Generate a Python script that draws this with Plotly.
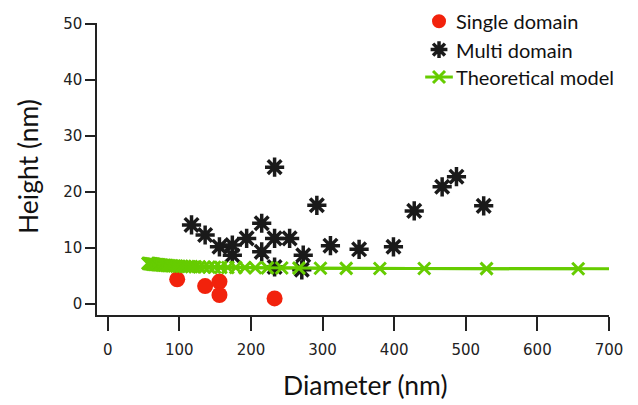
import plotly.graph_objects as go

# Single-domain particles (diameter, height) in nm
single_d = [97, 136, 156, 156, 233]
single_h = [4.4, 3.2, 4.0, 1.6, 1.0]

# Multi-domain particles (diameter, height) in nm
multi_d = [117, 136, 156, 174, 174, 194, 215, 215, 233, 233, 233, 254,
           273, 271, 292, 311, 351, 399, 428, 467, 487, 525]
multi_h = [14.1, 12.3, 10.2, 10.5, 8.7, 11.7, 14.4, 9.3, 11.7, 24.4, 6.6, 11.7,
           8.7, 6.1, 17.6, 10.4, 9.75, 10.2, 16.6, 20.9, 22.7, 17.5]

# Theoretical model curve (diameter, height) in nm
model_d = [56.2, 57.4, 58.6, 59.9, 61.3, 62.7, 64.2, 65.7, 67.4, 69.1, 70.9,
           72.8, 74.8, 77.0, 79.2, 81.6, 84.2, 86.9, 89.7, 92.8, 96.1, 99.7,
           103.5, 107.6, 112.1, 116.9, 122.2, 128.0, 134.4, 141.4, 149.2,
           157.9, 167.7, 178.8, 191.5, 206, 223, 243, 267, 297, 333, 380,
           442, 529, 657]
model_h = [7.25, 7.23, 7.2, 7.18, 7.15, 7.12, 7.1, 7.07, 7.05, 7.02, 7.0,
           6.97, 6.95, 6.92, 6.9, 6.88, 6.85, 6.83, 6.8, 6.78, 6.76, 6.74,
           6.72, 6.7, 6.68, 6.66, 6.64, 6.62, 6.6, 6.58, 6.56, 6.54, 6.52,
           6.5, 6.48, 6.46, 6.44, 6.42, 6.4, 6.38, 6.36, 6.34, 6.32, 6.3, 6.28]
# model curve continues to the end of the axis
model_end_d = 700
model_end_h = 6.27

x_ticks = [0, 100, 200, 300, 400, 500, 600, 700]
y_ticks = [0, 10, 20, 30, 40, 50]

series_names = ["Single domain", "Multi domain", "Theoretical model"]

GREEN = "#66CC00"
RED = "#F2220C"
BLACK = "#1a1a1a"
TEXT_FONT = "Lato"

circle_marker = dict(symbol="circle", color=RED, line=dict(width=0))
star_marker = dict(symbol="asterisk-open", color=BLACK,
                   line=dict(color=BLACK, width=3.5))
cross_marker = dict(symbol="x-thin-open", color=GREEN,
                    line=dict(color=GREEN, width=3))

fig = go.Figure()

fig.add_trace(go.Scatter(
    x=model_d + [model_end_d], y=model_h + [model_end_h],
    mode="lines", line=dict(color=GREEN, width=3), hoverinfo="skip"))

fig.add_trace(go.Scatter(
    x=single_d, y=single_h, mode="markers", name=series_names[0],
    marker=dict(size=16, **circle_marker)))

fig.add_trace(go.Scatter(
    x=multi_d, y=multi_h, mode="markers", name=series_names[1],
    marker=dict(size=16, **star_marker)))

fig.add_trace(go.Scatter(
    x=model_d, y=model_h, mode="lines+markers", name=series_names[2],
    line=dict(color=GREEN, width=3), marker=dict(size=12, **cross_marker)))

# Key in the upper right, drawn on a hidden unit-square overlay so it can
# sit partly above the plotting area.
key_sym_x = 0.668
key_row_y = [1.006, 0.909, 0.815]
key_text_x = 0.697
kw = dict(xaxis="x2", yaxis="y2", cliponaxis=False, hoverinfo="skip")
fig.add_shape(type="circle", xref="paper", yref="paper",
              xsizemode="pixel", ysizemode="pixel",
              xanchor=key_sym_x, yanchor=key_row_y[0],
              x0=-7, x1=7, y0=-7, y1=7,
              fillcolor=RED, line=dict(width=0), layer="above")
fig.add_trace(go.Scatter(x=[key_sym_x], y=[key_row_y[1]], mode="markers",
                         marker=dict(size=14, **star_marker), **kw))
fig.add_trace(go.Scatter(x=[key_sym_x - 0.027, key_sym_x + 0.027],
                         y=[key_row_y[2]] * 2, mode="lines",
                         line=dict(color=GREEN, width=3), **kw))
fig.add_trace(go.Scatter(x=[key_sym_x], y=[key_row_y[2]], mode="markers",
                         marker=dict(size=12, **cross_marker), **kw))
for name, ry in zip(series_names, key_row_y):
    fig.add_annotation(text=name, xref="paper", yref="paper",
                       x=key_text_x, y=ry, xanchor="left", yanchor="middle",
                       showarrow=False,
                       font=dict(family=TEXT_FONT, size=20, color="#111"))

axis_common = dict(
    showgrid=False, zeroline=False, showline=True, linecolor="#222",
    linewidth=1.5, ticks="outside", tickcolor="#222", tickwidth=1.5,
    tickfont=dict(family="DejaVu Sans", size=15, color="#222"),
)

fig.update_xaxes(range=[-15, 700], tickvals=x_ticks, ticklen=14,
                 ticklabelstandoff=6, **axis_common)
fig.update_yaxes(range=[-1.96, 50.1], tickvals=y_ticks, ticklen=10,
                 **axis_common)

title_font = dict(family=TEXT_FONT, size=26.5, color="#111")
fig.add_annotation(text="Diameter (nm)", xref="paper", yref="paper",
                   x=0.523, y=-0.24, xanchor="center", yanchor="middle",
                   showarrow=False, font=title_font)
fig.add_annotation(text="Height (nm)", xref="paper", yref="paper",
                   x=-0.135, y=0.51, xanchor="center", yanchor="middle",
                   textangle=-90, showarrow=False, font=title_font)

fig.update_layout(
    width=638, height=405,
    margin=dict(l=97, r=29, t=23, b=90),
    plot_bgcolor="white", paper_bgcolor="white",
    showlegend=False,
    xaxis2=dict(overlaying="x", range=[0, 1], visible=False, fixedrange=True),
    yaxis2=dict(overlaying="y", range=[0, 1], visible=False, fixedrange=True),
)

fig.write_html("out.html")
